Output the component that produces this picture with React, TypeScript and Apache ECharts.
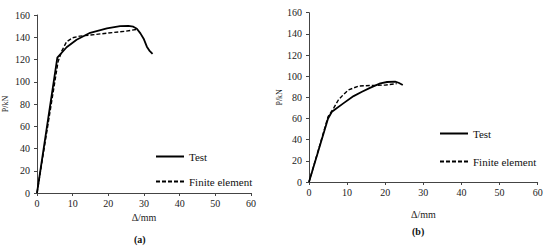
import React, { useEffect, useRef } from "react";
import * as echarts from "echarts";

const xTicks = [0, 10, 20, 30, 40, 50, 60];
const yTicks = [0, 20, 40, 60, 80, 100, 120, 140, 160];

// Chart (a)
const testA: [number, number][] = [
  [0, 0], [5.7, 121.6], [8.3, 131], [11.1, 137.8], [14.9, 144], [19.6, 148], [23.3, 150],
  [25.6, 150.3], [27, 149.5], [28, 147.7], [29, 143.5], [29.9, 138.7], [30.8, 131.5], [31.5, 128], [32.4, 125],
];
const feA: [number, number][] = [
  [0, 0], [5.9, 118], [7, 128], [8.3, 136], [10, 139.5], [12, 141], [15, 142], [20, 143.8], [25, 145.5], [27.8, 147],
];

// Chart (b)
const testB: [number, number][] = [
  [0, 0], [5, 60], [6, 66.4], [6.8, 68.6], [9, 74.3], [11.7, 81.2], [13.9, 85.3], [16, 89],
  [18.7, 93.2], [20.5, 94.5], [22.6, 94.8], [23.5, 93.8], [24.6, 91.7],
];
const feB: [number, number][] = [
  [0, 0], [5, 61.7], [6.5, 70], [7.7, 77.5], [9, 82.5], [10.3, 86.9], [13, 90.7], [16, 91.2], [20, 91.6], [23, 93],
];

const FONT = "'Liberation Serif', 'Times New Roman', serif";

export default function App() {
  const ref = useRef<HTMLDivElement>(null);
  useEffect(() => {
    const chart = echarts.init(ref.current!, undefined, { renderer: "svg" });
    const axisLine = { show: true, lineStyle: { color: "#444", width: 1 } };
    const mkX = (gridIndex: number, nameGap: number) => ({
      type: "value" as const,
      gridIndex,
      min: xTicks[0],
      max: xTicks[xTicks.length - 1],
      interval: 10,
      name: "Δ/mm",
      nameLocation: "middle" as const,
      nameGap,
      nameTextStyle: { fontFamily: FONT, fontSize: 10, color: "#222" },
      axisLine,
      axisTick: { show: true, inside: false, length: 3, lineStyle: { color: "#444" } },
      axisLabel: { fontFamily: FONT, fontSize: 10, color: "#222", margin: 5 },
      splitLine: { show: false },
    });
    const mkY = (gridIndex: number, nameGap: number) => ({
      type: "value" as const,
      gridIndex,
      min: yTicks[0],
      max: yTicks[yTicks.length - 1],
      interval: 20,
      name: "P/kN",
      nameLocation: "middle" as const,
      nameGap,
      nameRotate: 90,
      nameTextStyle: { fontFamily: FONT, fontSize: 8, color: "#222" },
      axisLine,
      axisTick: { show: true, inside: false, length: 3, lineStyle: { color: "#444" } },
      axisLabel: { fontFamily: FONT, fontSize: 10, color: "#222", margin: 7 },
      splitLine: { show: false },
    });
    const solid = { color: "#000", width: 1.8, type: "solid" as const };
    const dashed = { color: "#000", width: 1.4, type: [4, 2] as number[] };
    const legendBase = {
      orient: "vertical" as const,
      itemWidth: 28,
      itemHeight: 12,
      data: ["Test", "Finite element"],
      textStyle: { fontFamily: FONT, fontSize: 11, color: "#111" },
      itemStyle: { opacity: 0 },
      selectedMode: false,
    };
    chart.setOption({
      animation: false,
      backgroundColor: "#fff",
      grid: [
        { left: 37, top: 15, width: 214, height: 178 },
        { left: 309, top: 12.7, width: 228.7, height: 169.3 },
      ],
      xAxis: [mkX(0, 19), mkX(1, 27)],
      yAxis: [mkY(0, 28), mkY(1, 25)],
      legend: [
        { ...legendBase, left: 150, top: 146, itemGap: 14 },
        { ...legendBase, left: 434, top: 123, itemGap: 17 },
      ],
      graphic: [
        { type: "text", left: 134, top: 234, style: { text: "(a)", font: `bold 10px ${FONT}`, fill: "#111" } },
        { type: "text", left: 412, top: 226, style: { text: "(b)", font: `bold 10px ${FONT}`, fill: "#111" } },
      ],
      series: [
        { name: "Test", type: "line", xAxisIndex: 0, yAxisIndex: 0, data: testA, symbol: "none", lineStyle: solid, itemStyle: { color: "#000" } },
        { name: "Finite element", type: "line", xAxisIndex: 0, yAxisIndex: 0, data: feA, symbol: "none", lineStyle: dashed, itemStyle: { color: "#000" } },
        { name: "Test", type: "line", xAxisIndex: 1, yAxisIndex: 1, data: testB, symbol: "none", lineStyle: solid, itemStyle: { color: "#000" } },
        { name: "Finite element", type: "line", xAxisIndex: 1, yAxisIndex: 1, data: feB, symbol: "none", lineStyle: dashed, itemStyle: { color: "#000" } },
      ],
    });
    return () => chart.dispose();
  }, []);
  return <div ref={ref} style={{ width: 550, height: 250, position: "absolute", left: 0, top: 0 }} />;
}
